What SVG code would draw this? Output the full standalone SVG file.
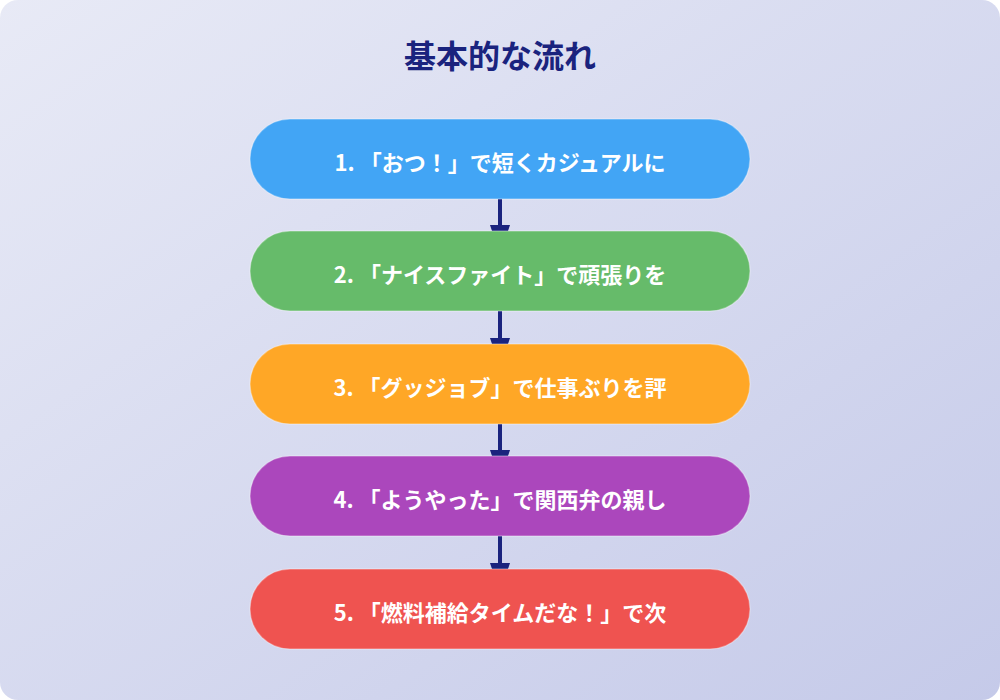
<svg xmlns="http://www.w3.org/2000/svg" width="1000" height="700" viewBox="0 0 1000 700">
<defs>
<linearGradient id="bg" x1="0" y1="0" x2="1" y2="1">
<stop offset="0" stop-color="#e8eaf6"/>
<stop offset="1" stop-color="#c5cae9"/>
</linearGradient>
<marker id="ah" markerWidth="30" markerHeight="20" refX="30" refY="10" orient="auto" markerUnits="userSpaceOnUse">
<path d="M0,0 L30,10 L0,20 Z" fill="#1a237e"/>
</marker>
<style>
.node rect { stroke: #ffffff; stroke-opacity: 0.3; stroke-width: 1.5; }
.node text { font-family: "Noto Sans CJK JP", "Noto Sans", sans-serif; font-weight: bold; font-size: 22px; fill: #ffffff; text-anchor: middle; dominant-baseline: central; }
.title { font-family: "Noto Sans CJK JP", "Noto Sans", sans-serif; font-weight: bold; font-size: 32px; fill: #1a237e; text-anchor: middle; dominant-baseline: central; }
.conn line { stroke: #1a237e; stroke-width: 4; }
</style>
</defs>
<rect x="0" y="0" width="1000" height="700" fill="#ffffff"/>
<rect x="0" y="0" width="1000" height="700" rx="18" ry="18" fill="url(#bg)"/>
<text class="title" x="500" y="54">基本的な流れ</text>
<g id="connectors" class="conn">
<line x1="500" y1="199" x2="500" y2="255" marker-end="url(#ah)"/>
<line x1="500" y1="311" x2="500" y2="368" marker-end="url(#ah)"/>
<line x1="500" y1="424" x2="500" y2="480" marker-end="url(#ah)"/>
<line x1="500" y1="536" x2="500" y2="593" marker-end="url(#ah)"/>
</g>
<g id="node1" class="node">
<rect x="250" y="119" width="500" height="80" rx="40" ry="40" fill="#42a5f5"/>
<text x="500" y="161">1. 「おつ！」で短くカジュアルに</text>
</g>
<g id="node2" class="node">
<rect x="250" y="231" width="500" height="80" rx="40" ry="40" fill="#66bb6a"/>
<text x="500" y="273">2. 「ナイスファイト」で頑張りを</text>
</g>
<g id="node3" class="node">
<rect x="250" y="344" width="500" height="80" rx="40" ry="40" fill="#ffa726"/>
<text x="500" y="386">3. 「グッジョブ」で仕事ぶりを評</text>
</g>
<g id="node4" class="node">
<rect x="250" y="456" width="500" height="80" rx="40" ry="40" fill="#ab47bc"/>
<text x="500" y="498">4. 「ようやった」で関西弁の親し</text>
</g>
<g id="node5" class="node">
<rect x="250" y="569" width="500" height="80" rx="40" ry="40" fill="#ef5350"/>
<text x="500" y="611">5. 「燃料補給タイムだな！」で次</text>
</g>
</svg>
